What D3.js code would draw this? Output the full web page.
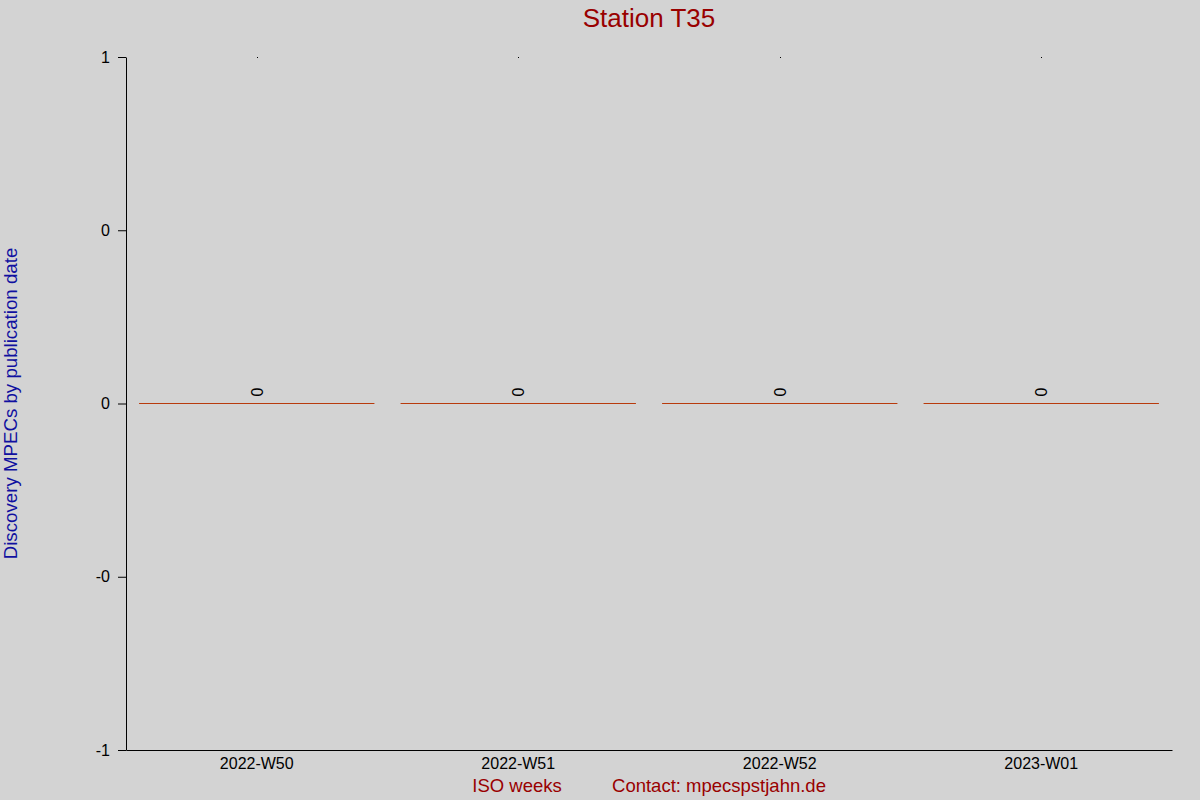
<!DOCTYPE html>
<html>
<head>
<meta charset="utf-8">
<script src="https://cdn.jsdelivr.net/npm/d3@7"></script>
<style>
  body { margin: 0; background: #d3d3d3; }
  svg { display: block; font-family: "Liberation Sans", Arial, sans-serif; }
</style>
</head>
<body>
<div id="chart"></div>
<script>
// Chart data
const weeks = ['2022-W50', '2022-W51', '2022-W52', '2023-W01'];
const counts = [0, 0, 0, 0];
const yTicks = [-1, -0.5, 0, 0.5, 1];
const yTickLabels = ['-1', '-0', '0', '0', '1'];

const width = 1200, height = 800;
const margin = { top: 57, right: 28, bottom: 50, left: 126 };

const svg = d3.select('#chart')
    .append('svg')
    .attr('width', width)
    .attr('height', height);

svg.append('rect')
    .attr('width', width)
    .attr('height', height)
    .style('fill', '#d3d3d3');

const x = d3.scaleBand()
    .domain(weeks)
    .range([margin.left, width - margin.right])
    .paddingInner(0.1)
    .paddingOuter(0.05);

const y = d3.scaleLinear()
    .domain([-1, 1])
    .range([height - margin.bottom, margin.top]);

// Title
svg.append('text')
    .attr('x', (margin.left + width - margin.right) / 2)
    .attr('y', 27)
    .attr('text-anchor', 'middle')
    .style('font-size', '26px')
    .style('fill', '#990000')
    .text('Station T35');

// Y axis
const yAxis = svg.append('g')
    .attr('transform', `translate(${margin.left},0)`)
    .call(d3.axisLeft(y)
        .tickValues(yTicks)
        .tickFormat((d, i) => yTickLabels[i])
        .tickSize(8)
        .tickSizeOuter(0)
        .tickPadding(8));
yAxis.select('.domain').style('stroke', '#000');
yAxis.selectAll('.tick line').style('stroke', '#000');
yAxis.selectAll('.tick text')
    .style('font-size', '16px')
    .style('fill', '#000')
    .style('font-family', '"Liberation Sans", Arial, sans-serif');

// X axis
const xAxis = svg.append('g')
    .attr('transform', `translate(0,${height - margin.bottom})`)
    .call(d3.axisBottom(x).tickSize(0).tickPadding(8));
xAxis.select('.domain').style('stroke', '#000');
xAxis.selectAll('.tick text')
    .style('font-size', '16px')
    .style('fill', '#000')
    .style('font-family', '"Liberation Sans", Arial, sans-serif');

// Bars (zero height, drawn as lines at the baseline)
svg.selectAll('.bar')
    .data(weeks)
    .enter()
    .append('line')
    .attr('class', 'bar')
    .attr('x1', d => x(d))
    .attr('x2', d => x(d) + x.bandwidth())
    .attr('y1', (d, i) => Math.floor(y(counts[i])) + 0.5)
    .attr('y2', (d, i) => Math.floor(y(counts[i])) + 0.5)
    .style('stroke', '#b83a0c')
    .style('stroke-width', 1);

// Value labels
svg.selectAll('.value')
    .data(weeks)
    .enter()
    .append('text')
    .attr('class', 'value')
    .attr('transform', (d, i) => `translate(${x(d) + x.bandwidth() / 2 + 6},${y(counts[i]) - 7}) rotate(-90)`)
    .style('font-size', '16px')
    .style('fill', '#000')
    .text((d, i) => counts[i]);

// Small marks at the top of the plot
svg.selectAll('.dot')
    .data(weeks)
    .enter()
    .append('rect')
    .attr('class', 'dot')
    .attr('x', d => Math.round(x(d) + x.bandwidth() / 2))
    .attr('y', y(1))
    .attr('width', 1)
    .attr('height', 1)
    .style('fill', '#000');

// Y axis label
svg.append('text')
    .attr('transform', `translate(17,${(margin.top + height - margin.bottom) / 2}) rotate(-90)`)
    .attr('text-anchor', 'middle')
    .style('font-size', '18.7px')
    .style('fill', '#1010a0')
    .text('Discovery MPECs by publication date');

// Footer
svg.append('text')
    .attr('x', 517)
    .attr('y', 792)
    .attr('text-anchor', 'middle')
    .style('font-size', '18.5px')
    .style('fill', '#990000')
    .text('ISO weeks');

svg.append('text')
    .attr('x', 719)
    .attr('y', 792)
    .attr('text-anchor', 'middle')
    .style('font-size', '18.5px')
    .style('fill', '#990000')
    .text('Contact: mpecspstjahn.de');
</script>
</body>
</html>
